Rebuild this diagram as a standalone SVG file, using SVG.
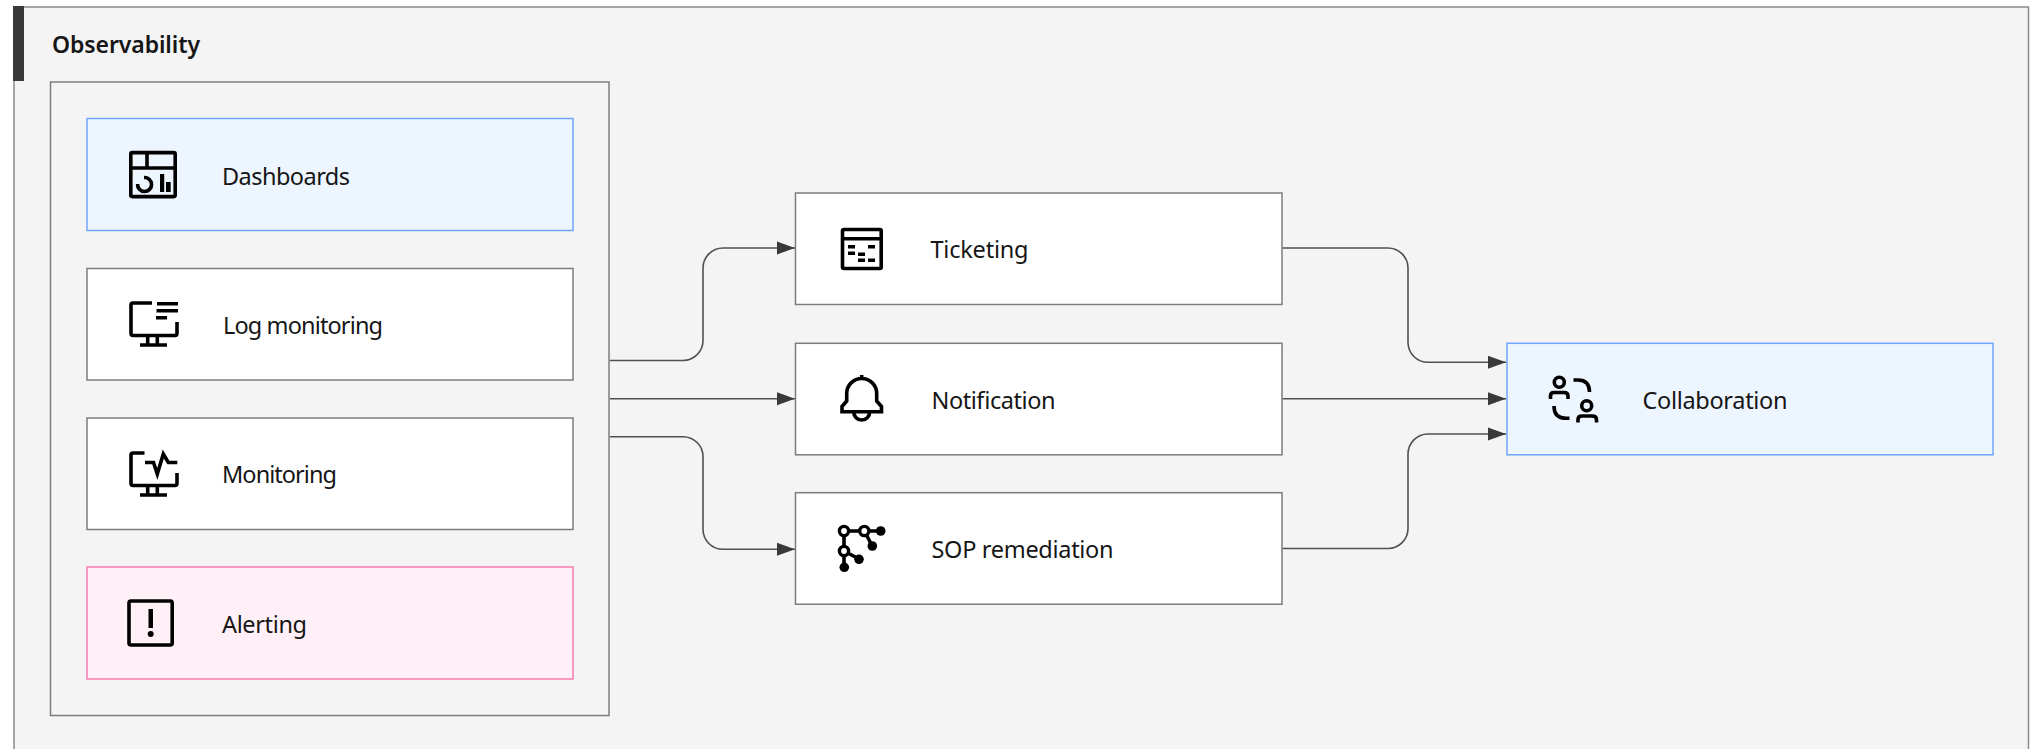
<svg xmlns="http://www.w3.org/2000/svg" width="2041" height="749" viewBox="0 0 2041 749">
<style>
text{font-family:"Noto Sans","Liberation Sans",sans-serif;font-size:23.5px;fill:#161616}
.title{font-size:23px;font-weight:600}
.box{stroke:#7c7c7c;stroke-width:1.5;fill:#fff}
.blue{stroke:#6ea6ff;fill:#edf5ff}
.pink{stroke:#f97bb0;fill:#fff0f7}
.ic{fill:none;stroke:#000;stroke-width:3.6}
.ho{fill:#fff;stroke:#000;stroke-width:3.4}
.ib{fill:#000;stroke:none}
.c{fill:none;stroke:#505050;stroke-width:1.6}
</style>
<defs>
<marker id="arrow" markerUnits="userSpaceOnUse" markerWidth="18" markerHeight="14" refX="18" refY="7" orient="auto"><path d="M0 0.500L18 7L0 13.500Z" fill="#393939"/></marker>
</defs>
<g id="observability">
<rect x="14" y="7" width="2014.5" height="760" fill="#f4f4f4" stroke="#8a8a8a" stroke-width="1.5"/>
<rect x="13" y="6" width="11" height="75" fill="#393939"/>
<text class="title" x="52" y="53" textLength="148">Observability</text>
<rect x="50.500" y="82" width="558.500" height="633.500" fill="#f4f4f4" stroke="#7c7c7c" stroke-width="1.500"/>
</g>
<g id="connectors">
<path class="c" marker-end="url(#arrow)" d="M610 360.500H683A20 20 0 0 0 703 340.500V268A20 20 0 0 1 723 248H795"/>
<path class="c" marker-end="url(#arrow)" d="M610 398.700H795"/>
<path class="c" marker-end="url(#arrow)" d="M610 436.700H683A20 20 0 0 1 703 456.700V529.300A20 20 0 0 0 723 549.300H795"/>
<path class="c" marker-end="url(#arrow)" d="M1282.500 248H1388A20 20 0 0 1 1408 268V342.300A20 20 0 0 0 1428 362.300H1506"/>
<path class="c" marker-end="url(#arrow)" d="M1282.500 398.700H1506"/>
<path class="c" marker-end="url(#arrow)" d="M1282.500 548.500H1388A20 20 0 0 0 1408 528.500V454A20 20 0 0 1 1428 434H1506"/>
</g>
<g id="dashboards">
<rect class="box blue" x="87" y="118.500" width="486" height="112"/>
<rect class="ic" x="130.800" y="152.600" width="44.400" height="44" rx="1.500"/>
<path class="ic" d="M130.800 168H175.200M147 152.600V168"/>
<path class="ic" d="M144 177.500A7 7 0 1 1 137.600 184"/>
<rect class="ib" x="160" y="174" width="4.200" height="18"/><rect class="ib" x="166" y="182" width="4.700" height="10"/>
<text x="222" y="185" textLength="128">Dashboards</text>
</g>
<g id="log-monitoring">
<rect class="box" x="87" y="268.500" width="486" height="111.500"/>
<path class="ic" d="M152 303H133Q131 303 131 305V333Q131 335.500 133 335.500H175Q177 335.500 177 333V322M147.700 335.500V345M157.300 335.500V345M140 345H167"/>
<path class="ib" d="M157 302H178V305.500H157ZM156.500 309H178V312.500H156.500ZM156 316H167V319.500H156Z"/>
<text x="223" y="334" textLength="160">Log monitoring</text>
</g>
<g id="monitoring">
<rect class="box" x="87" y="418" width="486" height="111.500"/>
<path class="ic" d="M144.500 453H133Q131 453 131 455V483Q131 485.500 133 485.500H175Q177 485.500 177 483V473M147.700 485.500V495M157.300 485.500V495M140 495H167"/>
<path class="ic" d="M145 462.500H153.500L157.300 474L163.300 454L168.300 462.500H177.300"/>
<text x="222" y="483" textLength="115">Monitoring</text>
</g>
<g id="alerting">
<rect class="box pink" x="87" y="567" width="486" height="112"/>
<rect class="ic" x="129" y="601" width="43.200" height="44" rx="2"/>
<rect class="ib" x="148.500" y="609" width="4.500" height="19"/><circle class="ib" cx="150.700" cy="634" r="3"/>
<text x="222" y="633" textLength="85">Alerting</text>
</g>
<g id="ticketing">
<rect class="box" x="795.500" y="193" width="486.500" height="111.500"/>
<rect class="ic" x="842.500" y="229.500" width="38.700" height="39" rx="1.500"/>
<path class="ic" d="M842.500 238.800H881.200"/>
<path class="ib" d="M848 245H855V248.500H848ZM868 245H875V248.500H868ZM848 251.500H855V255H848ZM858 252.500H865V256H858ZM858 258.500H865V262H858ZM868 258.500H875V262H868Z"/>
<text x="930.500" y="257.500" textLength="98">Ticketing</text>
</g>
<g id="notification">
<rect class="box" x="795.500" y="343.300" width="486.500" height="111.500"/>
<path class="ic" d="M842 411.700H881.500V406.500L876.700 401V393.500A15 15 0 0 0 846.700 393.500V401L842 406.500ZM853.700 412A8 8 0 0 0 869.700 412M861.700 375V379"/>
<text x="931.500" y="409" textLength="124">Notification</text>
</g>
<g id="sop-remediation">
<rect class="box" x="795.500" y="492.700" width="486.500" height="111.500"/>
<path class="ic" d="M844 531H880M844 531V567M844 551L859 559M864.300 531L872.300 546"/>
<circle class="ho" cx="844" cy="531" r="4.600"/><circle class="ho" cx="864.300" cy="531" r="4.600"/><circle class="ho" cx="844" cy="551" r="4.600"/>
<circle class="ib" cx="880.700" cy="531" r="4.800"/><circle class="ib" cx="872.300" cy="546" r="4.800"/><circle class="ib" cx="859" cy="559.300" r="4.800"/><circle class="ib" cx="844.300" cy="567.300" r="4.800"/>
<text x="931.500" y="557.500" textLength="182">SOP remediation</text>
</g>
<g id="collaboration">
<rect class="box blue" x="1507" y="343.300" width="486" height="111.500"/>
<circle class="ic" cx="1559.300" cy="382.300" r="5"/>
<path class="ic" d="M1550.500 399V396Q1550.500 392.500 1554 392.500H1564Q1568 392.500 1568 396V399"/>
<path class="ic" d="M1573.500 380H1578Q1589.500 380 1589.500 392"/>
<path class="ic" d="M1554 406Q1554 418.300 1566 418.300H1569.500"/>
<circle class="ic" cx="1586.700" cy="405.700" r="5"/>
<path class="ic" d="M1578 422.500V419.500Q1578 416 1582 416H1592Q1596.500 416 1596.500 419.500V422.500"/>
<text x="1642.500" y="409" textLength="145">Collaboration</text>
</g>
</svg>
